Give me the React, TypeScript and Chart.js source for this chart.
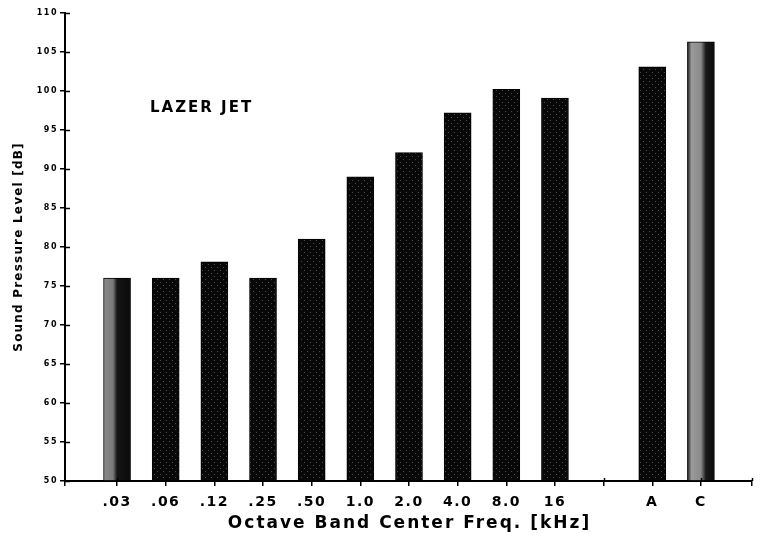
import React, { useEffect, useRef } from 'react';
import { Chart, registerables } from 'chart.js';

Chart.register(...registerables);

// ---- data ----
const categories = ['.03', '.06', '.12', '.25', '.50', '1.0', '2.0', '4.0', '8.0', '16', 'A', 'C'];
const slotPositions = [1, 2, 3, 4, 5, 6, 7, 8, 9, 10, 12, 13];
const levels = [76.0, 76.0, 78.1, 76.0, 81.0, 89.0, 92.1, 97.2, 100.2, 99.1, 103.1, 106.3];
const lightBars = ['.03', 'C'];
const yMin = 50;
const yMax = 110;
const yStep = 5;
const xMin = -0.07;
const xMax = 14.05;
const xTitle = 'Octave Band Center Freq. [kHz]';
const yTitle = 'Sound Pressure Level [dB]';
const annotation = 'LAZER JET';

const FONT = "'DejaVu Sans', 'Liberation Sans', sans-serif";

const App = () => {
  const ref = useRef<HTMLCanvasElement>(null);

  useEffect(() => {
    const canvas = ref.current!;
    const ctx0 = canvas.getContext('2d')!;

    // speckled dark texture for bars
    const pc = document.createElement('canvas');
    pc.width = 6;
    pc.height = 6;
    const p = pc.getContext('2d')!;
    p.fillStyle = '#080808';
    p.fillRect(0, 0, 6, 6);
    p.fillStyle = '#4a4a4a';
    p.fillRect(4, 0, 1, 1);
    p.fillRect(1, 3, 1, 1);
    const pattern = ctx0.createPattern(pc, 'repeat');

    const barThickness = 27;

    const decor = {
      id: 'decor',
      beforeDraw(chart: any) {
        chart.ctx.letterSpacing = '1.5px';
      },
      afterDraw(chart: any) {
        const ctx = chart.ctx;
        const area = chart.chartArea;
        const xs = chart.scales.x;
        const ys = chart.scales.y;
        ctx.save();
        ctx.strokeStyle = '#000';
        ctx.lineWidth = 1.5;
        // inner halves of the cross-shaped tick marks
        ys.ticks.forEach((t: any) => {
          const py = Math.round(ys.getPixelForValue(t.value)) + 0.5;
          ctx.beginPath();
          ctx.moveTo(area.left, py);
          ctx.lineTo(area.left + 5, py);
          ctx.stroke();
        });
        xs.ticks.forEach((t: any) => {
          if (t.value <= 0) return;
          const px = Math.round(xs.getPixelForValue(t.value)) + 0.5;
          ctx.beginPath();
          ctx.moveTo(px, area.bottom - 3);
          ctx.lineTo(px, area.bottom);
          ctx.stroke();
        });

        ctx.fillStyle = '#000';
        // x title
        ctx.letterSpacing = '2px';
        ctx.font = `bold 17px ${FONT}`;
        ctx.textAlign = 'center';
        ctx.textBaseline = 'middle';
        ctx.fillText(xTitle, (area.left + area.right) / 2 + 1, 524);
        // y title
        ctx.save();
        ctx.letterSpacing = '1.2px';
        ctx.font = `bold 12px ${FONT}`;
        ctx.translate(19, (area.top + area.bottom) / 2);
        ctx.rotate(-Math.PI / 2);
        ctx.fillText(yTitle, 0, 0);
        ctx.restore();
        // annotation
        ctx.letterSpacing = '2px';
        ctx.font = `bold 15px ${FONT}`;
        ctx.textAlign = 'left';
        ctx.fillText(annotation, area.left + 85, 108);
        ctx.restore();
        ctx.letterSpacing = '0px';
      },
    };

    const chart = new Chart(canvas, {
      type: 'bar',
      data: {
        datasets: [
          {
            data: slotPositions.map((x, i) => ({ x, y: levels[i] })),
            base: yMin,
            barThickness,
            borderColor: '#000',
            borderWidth: 1,
            backgroundColor: (c: any) => {
              if (c.type !== 'data') return pattern;
              const cat = categories[c.dataIndex];
              if (!lightBars.includes(cat)) return pattern;
              const xs = c.chart.scales.x;
              if (!xs) return '#555';
              const px = xs.getPixelForValue(slotPositions[c.dataIndex]);
              if (!Number.isFinite(px)) return '#555';
              const g = c.chart.ctx.createLinearGradient(px - barThickness / 2, 0, px + barThickness / 2, 0);
              if (cat === '.03') {
                g.addColorStop(0, '#8a8a8a');
                g.addColorStop(0.35, '#7a7a7a');
                g.addColorStop(0.5, '#151515');
                g.addColorStop(1, '#0a0a0a');
              } else {
                g.addColorStop(0, '#1a1a1a');
                g.addColorStop(0.15, '#9a9a9a');
                g.addColorStop(0.5, '#8a8a8a');
                g.addColorStop(0.68, '#1a1a1a');
                g.addColorStop(1, '#0a0a0a');
              }
              return g;
            },
          } as any,
        ],
      },
      options: {
        responsive: true,
        maintainAspectRatio: false,
        animation: false,
        layout: { padding: { top: 13, right: 9, left: 0, bottom: 0 } },
        plugins: {
          legend: { display: false },
          tooltip: { enabled: false },
        },
        scales: {
          x: {
            type: 'linear',
            min: xMin,
            max: xMax,
            offset: false,
            grid: { drawOnChartArea: false, offset: false, color: '#000', tickLength: 5, lineWidth: 1.5 },
            border: { color: '#000', width: 2 },
            ticks: {
              stepSize: 1,
              autoSkip: false,
              maxRotation: 0,
              padding: 8,
              color: '#000',
              font: { family: FONT, size: 14, weight: 'bold' },
              callback: (v: any) => {
                const i = slotPositions.indexOf(Number(v));
                return i >= 0 ? categories[i] : '';
              },
            },
            afterFit: (s: any) => {
              s.height = 56;
            },
          },
          y: {
            min: yMin,
            max: yMax,
            grid: { drawOnChartArea: false, color: '#000', tickLength: 5, lineWidth: 1.5 },
            border: { color: '#000', width: 2 },
            ticks: {
              stepSize: yStep,
              padding: 2,
              color: '#000',
              font: { family: FONT, size: 8, weight: 'bold' },
            },
            afterFit: (s: any) => {
              s.width = 65;
            },
          },
        },
      } as any,
      plugins: [decor],
    });

    return () => chart.destroy();
  }, []);

  return (
    <div style={{ position: 'fixed', left: 0, top: 0, width: 761, height: 537, background: '#fff' }}>
      <canvas ref={ref} />
    </div>
  );
};

export default App;
